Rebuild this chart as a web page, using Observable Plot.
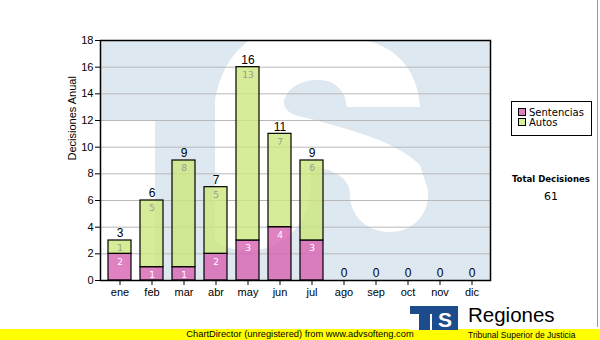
<!DOCTYPE html>
<html>
<head>
<meta charset="utf-8">
<script src="https://cdn.jsdelivr.net/npm/d3@7"></script>
<script src="https://cdn.jsdelivr.net/npm/@observablehq/plot@0.6"></script>
<style>
  html, body { margin: 0; padding: 0; background: #fff; }
  #wrap { position: relative; width: 600px; height: 340px; overflow: hidden; font-family: "Liberation Sans", Arial, sans-serif; }
  #chart { position: absolute; left: 0; top: 0; }
  #legend { position: absolute; left: 511px; top: 101px; width: 79px; height: 33px; border: 1px solid #000; background: #fff; font-family: "DejaVu Sans", Verdana, sans-serif; font-size: 10px; }
  .li { position: absolute; left: 6px; height: 11px; line-height: 11px; white-space: nowrap; }
  .sw { display: inline-block; width: 6px; height: 6px; border: 1px solid #000; margin-right: 3px; vertical-align: 0px; }
  #total { position: absolute; left: 500px; width: 102px; top: 173px; text-align: center; font-family: "DejaVu Sans Condensed", "DejaVu Sans", sans-serif; font-weight: bold; font-size: 9.5px; }
  #totalv { position: absolute; left: 500px; width: 102px; top: 190px; text-align: center; font-family: "DejaVu Sans", sans-serif; font-size: 11px; }
  #yellow { position: absolute; left: 0; top: 329px; width: 600px; height: 11px; background: #ffff00; }
  #credit { position: absolute; left: 0; width: 600px; top: 329px; text-align: center; font-size: 9.3px; line-height: 11px; color: #000; }
  #rline { position: absolute; left: 597px; top: 0; width: 1px; height: 327px; background: #999; }
  #logo { position: absolute; left: 410px; top: 306px; }
  #reg { position: absolute; left: 468px; top: 302px; font-size: 20.5px; line-height: 26px; color: #000; }
  #sub { position: absolute; left: 468px; top: 330px; font-size: 8.5px; line-height: 10px; color: #000; white-space: nowrap; }
</style>
</head>
<body>
<div id="wrap">
  <div id="chart"></div>
  <div id="legend"></div>
  <div id="total"></div>
  <div id="totalv"></div>
  <div id="yellow"></div>
  <div id="credit">ChartDirector (unregistered) from www.advsofteng.com</div>
  <svg id="logo" width="50" height="24">
    <rect x="0" y="0" width="48" height="24" fill="#1d4c8c"></rect>
    <rect x="0" y="8" width="9" height="16" fill="#fff"></rect>
    <rect x="20" y="8" width="2" height="16" fill="#fff"></rect>
    <text x="35" y="21" text-anchor="middle" font-family="Liberation Sans, Arial" font-weight="bold" font-size="21" fill="#fff">S</text>
  </svg>
  <div id="reg">Regiones</div>
  <div id="sub">Tribunal Superior de Justicia</div>
  <div id="rline"></div>
</div>
<script>
// ---- data ----
const months = ["ene","feb","mar","abr","may","jun","jul","ago","sep","oct","nov","dic"];
const sentencias = [2,1,1,2,3,4,3,0,0,0,0,0];
const autos = [1,5,8,5,13,7,6,0,0,0,0,0];
const seriesNames = ["Sentencias","Autos"];
const seriesColors = ["#d862b3","#cce77c"];
const legendColors = ["#e07fc0","#d6ee98"];
const labelColors = ["#ffffff","#9a9a9a"];
const yTicks = [0,2,4,6,8,10,12,14,16,18];
const yLabel = "Decisiones Anual";
const totalLabel = "Total Decisiones";

// ---- build tables ----
const seriesValues = [sentencias, autos];
const segs = [];
months.forEach((m, i) => {
  let base = 0;
  seriesValues.forEach((vals, s) => {
    const v = vals[i];
    segs.push({month: m, series: seriesNames[s], value: v, y1: base, y2: base + v, s});
    base += v;
  });
});
const totals = months.map((m, i) => ({month: m, total: sentencias[i] + autos[i]}));
const grand = d3.sum(totals, d => d.total);

const W = 600, H = 330, ML = 100, MR = 110, MT = 40, MB = 50;

// decorative watermark (background logo), in plot-frame-relative coordinates
function watermark() {
  const w = W - ML - MR, h = H - MT - MB;
  const g = d3.create("svg:g").attr("transform", `translate(${ML},${MT})`);
  g.append("rect").attr("width", w).attr("height", h).attr("fill", "#dee8f1");
  g.append("rect").attr("x", 0).attr("y", 80).attr("width", 55).attr("height", h - 80).attr("fill", "#fff");
  g.append("path").attr("fill", "#fff").attr("d",
    "M150,0 L262,0 C295,5 318,30 320,67 L247,67 C245,50 235,40 218,40 C200,40 188,48 184,60 " +
    "C183,68 188,72 195,75 C245,88 295,100 320,125 L328,150 C330,175 312,192 290,192 " +
    "C266,192 250,175 250,155 C250,138 235,130 210,125 C215,160 205,190 175,205 " +
    "C150,215 125,210 115,200 L115,60 C120,30 135,10 150,0 Z");
  return g.node();
}

const plot = Plot.plot({
  width: W, height: H,
  marginLeft: ML, marginRight: MR, marginTop: MT, marginBottom: MB,
  style: {fontFamily: "Liberation Sans, Arial, sans-serif", color: "#000", background: "transparent"},
  x: {domain: months, paddingInner: 0.29, paddingOuter: 0.145, label: null},
  y: {domain: [0, 18], label: null},
  marks: [
    watermark,
    Plot.gridY({ticks: yTicks, stroke: "#b8b8b8", strokeOpacity: 1}),
    Plot.rectY(segs.filter(d => d.value > 0), {
      x: "month", y1: "y1", y2: "y2",
      fill: d => seriesColors[d.s], fillOpacity: 0.8,
      stroke: "#000", strokeWidth: 1.2
    }),
    Plot.text(segs.filter(d => d.value > 0), {
      x: "month", y: "y2", text: d => String(d.value), dy: 8,
      fill: d => labelColors[d.s], fontSize: 9, fontFamily: "DejaVu Sans, Verdana, sans-serif"
    }),
    Plot.text(totals, {
      x: "month", y: "total", text: d => String(d.total), dy: -7,
      fill: "#000", fontSize: 12
    }),
    Plot.axisY({ticks: yTicks, tickSize: 5, tickPadding: 2, fontSize: 11, label: null}),
    Plot.axisX({tickSize: 5, tickPadding: 3, fontSize: 11, label: null}),
    Plot.text([yLabel], {
      frameAnchor: "left", text: d => d, rotate: -90, dx: -28, fontSize: 11, fill: "#000"
    }),
    Plot.frame({stroke: "#000", strokeWidth: 1.5})
  ]
});
document.getElementById("chart").appendChild(plot);

// legend
const leg = document.getElementById("legend");
seriesNames.forEach((n, i) => {
  const d = document.createElement("div");
  d.className = "li";
  d.style.top = (5 + i * 10) + "px";
  const sw = document.createElement("span");
  sw.className = "sw";
  sw.style.background = legendColors[i];
  d.appendChild(sw);
  d.appendChild(document.createTextNode(n));
  leg.appendChild(d);
});
document.getElementById("total").textContent = totalLabel;
document.getElementById("totalv").textContent = String(grand);
</script>
</body>
</html>
